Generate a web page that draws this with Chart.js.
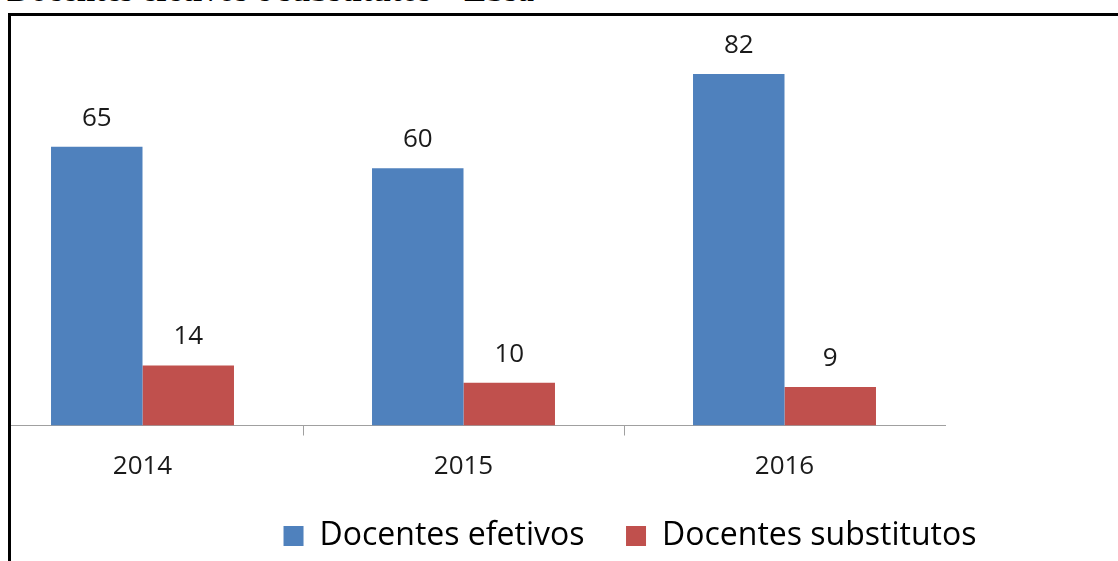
<!DOCTYPE html>
<html lang="pt">
<head>
<meta charset="utf-8">
<title>Docentes efetivos e substitutos</title>
<script src="https://cdn.jsdelivr.net/npm/chart.js@4"></script>
<style>
  html, body { margin: 0; padding: 0; background: #fff; overflow: hidden; }
  body { width: 1118px; height: 561px; position: relative; }
  /* título cortado no topo da imagem */
  #titulo {
    position: absolute; left: 7px; top: -28px; margin: 0;
    font: bold 33px "Liberation Serif", "Times New Roman", serif;
    line-height: normal; color: #000; white-space: nowrap;
  }
  /* moldura preta (só aparecem as bordas esquerda e superior) */
  #moldura {
    position: absolute; left: 8px; top: 13px; right: -20px; bottom: -20px;
    border-left: 3px solid #000; border-top: 3px solid #000;
    pointer-events: none; z-index: 2;
  }
  #recorte { position: absolute; left: 11px; top: 0; width: 1107px; height: 561px; overflow: hidden; }
  #grafico { position: absolute; left: -29px; top: 0; }
</style>
</head>
<body>
<p id="titulo">Docentes efetivos e substitutos – Ebsa</p>
<div id="moldura"></div>
<div id="recorte">
  <canvas id="grafico" width="1296" height="561"></canvas>
</div>
<script>
// Dados do gráfico
const anos = ['2014', '2015', '2016'];
const docentesEfetivos = [65, 60, 82];
const docentesSubstitutos = [14, 10, 9];

const corEfetivos = '#4F81BD';
const corSubstitutos = '#C0504D';
const corEixo = '#A0A0A0';
const fonte = '"Open Sans", "Noto Sans", sans-serif';

/**
 * Escreve o valor acima de cada barra
 */
const rotulosValores = {
  id: 'rotulosValores',
  afterDatasetsDraw(chart) {
    const ctx = chart.ctx;
    ctx.save();
    ctx.font = '26px ' + fonte;
    ctx.fillStyle = '#1a1a1a';
    ctx.textAlign = 'center';
    ctx.textBaseline = 'alphabetic';
    chart.data.datasets.forEach((dataset, i) => {
      chart.getDatasetMeta(i).data.forEach((barra, j) => {
        ctx.fillText(String(dataset.data[j]), barra.x, barra.y - 21);
      });
    });
    ctx.restore();
  }
};

function criarGrafico() {
  const ctx = document.getElementById('grafico');
  return new Chart(ctx, {
    type: 'bar',
    data: {
      labels: anos,
      datasets: [
        { label: 'Docentes efetivos', data: docentesEfetivos, backgroundColor: corEfetivos },
        { label: 'Docentes substitutos', data: docentesSubstitutos, backgroundColor: corSubstitutos }
      ]
    },
    options: {
      responsive: false,
      animation: false,
      layout: { padding: { top: 18.2, bottom: -1, left: 0, right: 0 } },
      categoryPercentage: 0.57,
      barPercentage: 1.0,
      scales: {
        x: {
          grid: {
            drawOnChartArea: false,
            drawTicks: true,
            tickLength: 10,
            // só as marcas entre as categorias
            color: (c) => (c.index === 1 || c.index === 2) ? corEixo : 'transparent'
          },
          border: { display: true, color: corEixo, width: 1 },
          ticks: { color: '#1a1a1a', font: { family: fonte, size: 26 }, padding: 15 },
          afterFit: (escala) => { escala.height = 53; }
        },
        y: {
          position: 'right',
          min: 0,
          max: 95,
          grid: { display: false },
          border: { display: false },
          ticks: { display: false },
          afterFit: (escala) => { escala.width = 333; }
        }
      },
      plugins: {
        title: { display: false },
        tooltip: { enabled: false },
        legend: {
          position: 'bottom',
          labels: {
            color: '#000',
            font: { family: fonte, size: 32 },
            boxWidth: 20,
            boxHeight: 20,
            padding: 41.5
          }
        }
      }
    },
    plugins: [rotulosValores]
  });
}

window.grafico = criarGrafico();
</script>
</body>
</html>
